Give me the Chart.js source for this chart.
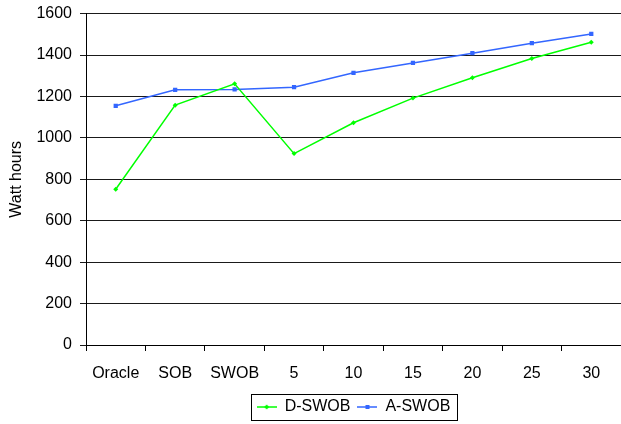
<!DOCTYPE html>
<html>
<head>
<meta charset="utf-8">
<script src="https://cdn.jsdelivr.net/npm/chart.js@4/dist/chart.umd.min.js"></script>
<style>
html,body{margin:0;padding:0;background:#fff;overflow:hidden;}
#wrap{width:625px;height:430px;position:relative;margin-top:-4px;}
</style>
</head>
<body>
<div id="wrap"><canvas id="c"></canvas></div>
<script>
const categories = ['Oracle', 'SOB', 'SWOB', '5', '10', '15', '20', '25', '30'];
const dSwob = [752, 1158, 1261, 924, 1073, 1192, 1290, 1383, 1462];
const aSwob = [1155, 1232, 1234, 1245, 1314, 1362, 1409, 1457, 1502];
const yTicks = [0, 200, 400, 600, 800, 1000, 1200, 1400, 1600];
const seriesNames = ['D-SWOB', 'A-SWOB'];
const yTitle = 'Watt hours';

const GREEN = '#00ff00';
const BLUE = '#3366ff';
const FONT = "'Liberation Sans', Arial, sans-serif";

function legendIcon(color, shape) {
  const cv = document.createElement('canvas');
  cv.width = 20; cv.height = 8;
  const g = cv.getContext('2d');
  g.strokeStyle = color; g.lineWidth = 1.5;
  g.beginPath(); g.moveTo(0, 4); g.lineTo(20, 4); g.stroke();
  g.fillStyle = color;
  if (shape === 'rect') { g.fillRect(8, 2, 4, 4); }
  else { g.beginPath(); g.moveTo(10, 1.5); g.lineTo(12.5, 4); g.lineTo(10, 6.5); g.lineTo(7.5, 4); g.closePath(); g.fill(); }
  return cv;
}

const legendBorder = {
  id: 'legendBorder',
  afterDraw(chart) {
    const lg = chart.legend;
    if (!lg || !lg.legendHitBoxes || !lg.legendHitBoxes.length) return;
    const hb = lg.legendHitBoxes;
    let l = Infinity, r = -Infinity, t = Infinity, b = -Infinity;
    hb.forEach(h => { l = Math.min(l, h.left); r = Math.max(r, h.left + h.width); t = Math.min(t, h.top); b = Math.max(b, h.top + h.height); });
    const ctx = chart.ctx;
    ctx.save();
    ctx.strokeStyle = '#000'; ctx.lineWidth = 1;
    ctx.strokeRect(Math.round(l - 6) + 0.5, Math.round(t - 5) + 0.5, Math.round(r - l + 12), Math.round(b - t + 10));
    ctx.restore();
  }
};

new Chart(document.getElementById('c'), {
  type: 'line',
  data: {
    labels: categories,
    datasets: [
      { label: seriesNames[0], data: dSwob, borderColor: GREEN, backgroundColor: GREEN, borderWidth: 1.5,
        pointStyle: 'rectRot', pointRadius: 2.5, pointBorderWidth: 0, tension: 0, legendIcon: legendIcon(GREEN, 'diamond') },
      { label: seriesNames[1], data: aSwob, borderColor: BLUE, backgroundColor: BLUE, borderWidth: 1.5,
        pointStyle: 'rect', pointRadius: 3, pointBorderWidth: 0, tension: 0, legendIcon: legendIcon(BLUE, 'rect') }
    ]
  },
  options: {
    responsive: true,
    maintainAspectRatio: false,
    animation: false,
    layout: { padding: { top: 9, right: 1, bottom: 1, left: 0 } },
    plugins: {
      tooltip: { enabled: false },
      legend: {
        position: 'bottom',
        fullSize: false,
        labels: {
          color: '#000',
          font: { family: FONT, size: 16 },
          usePointStyle: true,
          pointStyleWidth: 20,
          padding: 7,
          generateLabels(chart) {
            return chart.data.datasets.map((ds, i) => ({
              text: ds.label, fillStyle: ds.borderColor, strokeStyle: ds.borderColor,
              pointStyle: ds.legendIcon, datasetIndex: i, hidden: false, lineWidth: 0, fontColor: '#000'
            }));
          }
        }
      }
    },
    scales: {
      x: {
        type: 'category',
        offset: true,
        grid: { offset: true, drawOnChartArea: false, drawTicks: true, tickLength: 6, color: '#000' },
        border: { color: '#000', width: 1 },
        ticks: { color: '#000', font: { family: FONT, size: 16 }, padding: 13, maxRotation: 0, autoSkip: false },
        afterFit(s) { s.height = 47; }
      },
      y: {
        min: 0, max: 1600,
        afterBuildTicks(s) { s.ticks = yTicks.map(v => ({ value: v })); },
        grid: { color: '#1a1a1a', tickLength: 6, drawTicks: true },
        border: { color: '#000', width: 1 },
        ticks: { color: '#000', font: { family: FONT, size: 16 }, padding: 8, callback: v => String(v) },
        title: { display: true, text: yTitle, color: '#000', font: { family: FONT, size: 16 }, padding: { top: 7, bottom: 0 } },
        afterFit(s) { s.width = 86; }
      }
    }
  },
  plugins: [legendBorder]
});
</script>
</body>
</html>
